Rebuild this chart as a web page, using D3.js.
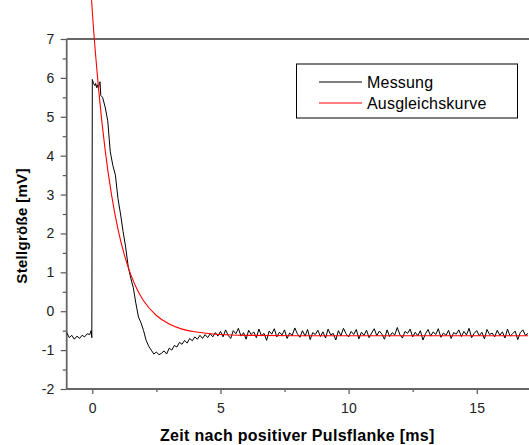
<!DOCTYPE html>
<html>
<head>
<meta charset="utf-8">
<script src="https://cdn.jsdelivr.net/npm/d3@7"></script>
<style>
body { margin: 0; background: #fff; }
text { font-family: "Liberation Sans", Arial, sans-serif; }
</style>
</head>
<body>
<script>
var width = 529;
var height = 445;

// Messung, Puls-Bereich: [Zeit ms, Wert mV]
var messungPuls = [
  [-1.0,-0.55],[-0.9,-0.68],[-0.8,-0.62],[-0.7,-0.72],[-0.6,-0.64],[-0.5,-0.70],
  [-0.4,-0.62],[-0.3,-0.66],[-0.2,-0.58],[-0.1,-0.60],[-0.05,-0.50],[-0.02,-0.68],
  [0.0,5.96],[0.05,5.85],[0.1,5.80],[0.13,5.86],[0.17,5.75],[0.2,5.82],[0.24,5.72],
  [0.27,5.85],[0.3,5.90],[0.33,5.55],[0.4,5.50],[0.5,5.25],[0.6,4.90],[0.7,4.10],
  [0.8,3.75],[0.9,3.50],[1.0,2.90],[1.1,2.50],[1.2,2.05],[1.3,1.65],[1.4,1.15],
  [1.5,0.85],[1.6,0.60],[1.7,0.20],[1.8,-0.15],[1.9,-0.30],[2.0,-0.50],[2.1,-0.75],
  [2.2,-0.90],[2.3,-1.00],[2.4,-1.10],[2.5,-1.05],[2.6,-1.12],[2.7,-1.08],[2.8,-1.02],
  [2.9,-1.10],[3.0,-0.95],[3.1,-1.00],[3.2,-0.88],[3.3,-0.92],[3.4,-0.80],[3.5,-0.85],
  [3.6,-0.75],[3.7,-0.82],[3.8,-0.70],[3.9,-0.76],[4.0,-0.66],[4.1,-0.72],[4.2,-0.62],
  [4.3,-0.70],[4.4,-0.60],[4.5,-0.68],[4.6,-0.58],[4.7,-0.66],[4.8,-0.55],[4.9,-0.64]
];

// Messung ab 5 ms, Abtastung alle 0.1 ms
var rauschStart = 5.0;
var rauschSchritt = 0.1;
var messungRest = [
  -0.52,-0.66,-0.48,-0.62,-0.70,-0.50,-0.58,-0.44,-0.64,-0.55,
  -0.72,-0.49,-0.60,-0.53,-0.68,-0.46,-0.63,-0.57,-0.75,-0.51,
  -0.59,-0.45,-0.66,-0.54,-0.61,-0.48,-0.70,-0.56,-0.62,-0.43,
  -0.58,-0.67,-0.50,-0.64,-0.47,-0.73,-0.55,-0.60,-0.49,-0.65,
  -0.53,-0.69,-0.46,-0.61,-0.57,-0.74,-0.50,-0.63,-0.44,-0.58,
  -0.66,-0.52,-0.60,-0.47,-0.71,-0.54,-0.62,-0.49,-0.68,-0.56,
  -0.45,-0.63,-0.51,-0.59,-0.72,-0.48,-0.65,-0.55,-0.61,-0.42,
  -0.60,-0.69,-0.52,-0.57,-0.46,-0.66,-0.54,-0.63,-0.50,-0.74,
  -0.58,-0.47,-0.64,-0.53,-0.60,-0.45,-0.67,-0.56,-0.62,-0.49,
  -0.70,-0.55,-0.59,-0.48,-0.65,-0.52,-0.61,-0.44,-0.68,-0.57,
  -0.50,-0.63,-0.54,-0.71,-0.47,-0.60,-0.56,-0.66,-0.49,-0.62,
  -0.53,-0.69,-0.46,-0.64,-0.58,-0.51,-0.73,-0.55,-0.48,-0.62,
  -0.57
];

// Ausgleichskurve
var ausgleichZeit = [-0.03, 0, 0.25, 0.5, 0.75, 1, 1.25, 1.5, 1.75, 2, 2.5, 3, 3.5, 4, 5, 6, 8, 10, 17];
var ausgleichWert = [8.0, 7.70, 5.68, 4.15, 2.99, 2.11, 1.45, 0.94, 0.56, 0.27, -0.11, -0.33, -0.46, -0.53, -0.60, -0.62, -0.63, -0.63, -0.63];

var xMajor = [0, 5, 10, 15];
var xMinor = [2.5, 7.5, 12.5];
var yMajor = [-2, -1, 0, 1, 2, 3, 4, 5, 6, 7];
var yMinor = [-1.5, -0.5, 0.5, 1.5, 2.5, 3.5, 4.5, 5.5, 6.5];

var legendeNamen = ["Messung", "Ausgleichskurve"];
var legendeFarben = ["#000", "#ff0000"];

var links = 66.7, oben = 39, unten = 389, rechts = 528;

var x = d3.scaleLinear().domain([-1, 17]).range([links, rechts]);
var y = d3.scaleLinear().domain([-2, 7]).range([unten, oben]);

var svg = d3.select("body")
        .append("svg")
        .attr("width", width)
        .attr("height", height);

var messung = messungPuls.concat(messungRest.map(function(v, i){
    return [rauschStart + i*rauschSchritt, v];
}));
var ausgleich = ausgleichZeit.map(function(t, i){ return [t, ausgleichWert[i]]; });

// Achsen
var fmt = function(d){ return String(d).replace("\u2212", "-"); };

svg.append("g")
    .attr("transform", "translate(0," + unten + ")")
    .call(d3.axisBottom(x).tickValues(xMajor).tickSize(5).tickPadding(9).tickFormat(fmt));
svg.append("g")
    .attr("transform", "translate(0," + unten + ")")
    .call(d3.axisBottom(x).tickValues(xMinor).tickSize(3).tickFormat(""));

svg.append("g")
    .attr("transform", "translate(" + links + ",0)")
    .call(d3.axisLeft(y).tickValues(yMajor).tickSize(6).tickPadding(6).tickFormat(fmt));
svg.append("g")
    .attr("transform", "translate(" + links + ",0)")
    .call(d3.axisLeft(y).tickValues(yMinor).tickSize(4).tickFormat(""));

svg.selectAll(".domain").remove();
svg.selectAll(".tick line").attr("stroke", "#555").attr("stroke-width", 1.2);
svg.selectAll(".tick text")
    .attr("fill", "#222")
    .style("font-size", "14px")
    .style("letter-spacing", "0.3px")
    .style("font-family", "'Liberation Sans', Arial, sans-serif");

// Rahmenlinien
svg.append("line").attr("x1", links).attr("x2", width).attr("y1", unten).attr("y2", unten)
    .attr("stroke", "#666").attr("stroke-width", 1.8);
svg.append("line").attr("x1", links).attr("x2", width).attr("y1", oben).attr("y2", oben)
    .attr("stroke", "#666").attr("stroke-width", 1.8);
svg.append("line").attr("x1", links).attr("x2", links).attr("y1", oben).attr("y2", unten)
    .attr("stroke", "#666").attr("stroke-width", 1.8);

// Kurven
var linie = d3.line().x(function(d){ return x(d[0]); }).y(function(d){ return y(d[1]); });

svg.append("path")
    .datum(messung)
    .attr("fill", "none")
    .attr("stroke", legendeFarben[0])
    .attr("stroke-width", 1)
    .attr("d", linie);

svg.append("path")
    .datum(ausgleich)
    .attr("fill", "none")
    .attr("stroke", legendeFarben[1])
    .attr("stroke-width", 1.1)
    .attr("d", linie.curve(d3.curveMonotoneX));

// Legende
var leg = svg.append("g");
leg.append("rect")
    .attr("x", 296.5).attr("y", 64).attr("width", 221).attr("height", 54)
    .attr("fill", "#fff").attr("stroke", "#000").attr("stroke-width", 1);
legendeNamen.forEach(function(n, i){
    var ly = 82 + i*21;
    leg.append("line").attr("x1", 319).attr("x2", 362).attr("y1", ly).attr("y2", ly)
        .attr("stroke", legendeFarben[i]).attr("stroke-width", 1);
    leg.append("text").attr("x", 367).attr("y", ly + 5.5)
        .style("font-size", "16px").style("letter-spacing", "0.2px")
        .attr("fill", "#000").text(n);
});

// Achsentitel
svg.append("text")
    .attr("x", (links + rechts)/2).attr("y", 441)
    .attr("text-anchor", "middle")
    .style("font-size", "16px").style("font-weight", "bold").style("letter-spacing", "0.3px")
    .text("Zeit nach positiver Pulsflanke [ms]");

svg.append("text")
    .attr("transform", "translate(27,226) rotate(-90)")
    .attr("text-anchor", "middle")
    .style("font-size", "15px").style("font-weight", "bold").style("letter-spacing", "0.3px")
    .text("Stellgröße [mV]");
</script>
</body>
</html>
